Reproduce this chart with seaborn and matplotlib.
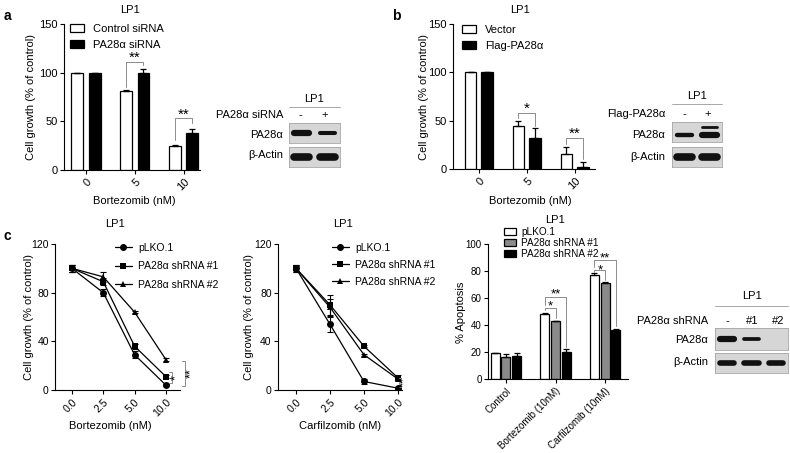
import numpy as np
import pandas as pd
import matplotlib
matplotlib.use("Agg")
import matplotlib.pyplot as plt
import seaborn as sns

sns.set_theme(style="ticks")
plt.rcParams["font.family"] = ["Liberation Sans", "DejaVu Sans"]
plt.rcParams.update({
    "axes.linewidth": 0.8,
    "axes.edgecolor": "black",
    "xtick.major.width": 0.8,
    "ytick.major.width": 0.8,
    "xtick.major.size": 3,
    "ytick.major.size": 3,
    "ytick.major.pad": 1.5,
    "xtick.major.pad": 2,
    "xtick.color": "black",
    "ytick.color": "black",
    "text.color": "black",
    "axes.labelcolor": "black",
})

W, H = 790, 453

# panel a: siRNA knockdown
doses_a = ["0", "5", "10"]
ctrl_sirna = [100, 81, 25]
ctrl_sirna_err = [0, 1.0, 0.6]
pa28_sirna = [100, 99.5, 38]
pa28_sirna_err = [0, 4.5, 4.0]

# panel b: overexpression
doses_b = ["0", "5", "10"]
vector = [100, 44, 16]
vector_err = [0, 6, 7]
flag_pa28 = [100, 32, 2.5]
flag_pa28_err = [0, 10, 5]

# panel c: dose response curves
conc = ["0.0", "2.5", "5.0", "10.0"]
btz_plko = [100, 80, 29, 4]
btz_plko_err = [3, 3, 3, 1]
btz_sh1 = [100, 89, 36, 11]
btz_sh1_err = [3, 3, 2, 1]
btz_sh2 = [100, 93, 64, 25]
btz_sh2_err = [3, 4, 1, 1]
cfz_plko = [100, 54, 7, 1.5]
cfz_plko_err = [3, 6, 2, 1]
cfz_sh1 = [100, 70, 36, 10]
cfz_sh1_err = [3, 8, 1, 2]
cfz_sh2 = [100, 68, 29, 9]
cfz_sh2_err = [2, 7, 1, 1]

# panel c: apoptosis
apop_groups = ["Control", "Bortezomib (10nM)", "Carfilzomib (10nM)"]
apop_plko = [19, 48, 77]
apop_plko_err = [0.5, 1.2, 1.5]
apop_sh1 = [16.5, 43, 71]
apop_sh1_err = [2, 0.3, 1.2]
apop_sh2 = [17, 20, 36]
apop_sh2_err = [2, 2.2, 0.8]

# western blots (relative band intensity per lane)
blot_a_lanes = ["-", "+"]
blot_a_pa28 = [1.0, 0.65]
blot_a_actin = [1.0, 1.0]
blot_b_lanes = ["-", "+"]
blot_b_pa28 = [0.7, 1.0]
blot_b_flag = [0.0, 0.45]
blot_b_actin = [1.0, 1.0]
blot_c_lanes = ["-", "#1", "#2"]
blot_c_pa28 = [1.0, 0.6, 0.0]
blot_c_actin = [0.9, 0.9, 0.9]

fig = plt.figure(figsize=(W / 100, H / 100), dpi=100)


def px_axes(l, t, r, b):
    return fig.add_axes([l / W, 1 - b / H, (r - l) / W, (b - t) / H])


def ftext(x, y, s, **kw):
    kw.setdefault("ha", "center")
    kw.setdefault("va", "center")
    kw.setdefault("fontsize", 8)
    fig.text(x / W, 1 - y / H, s, **kw)


def place_labels(ax, ylab, yxy, xlab=None, xxy=None, fs=8):
    ax.set_ylabel(ylab, fontsize=fs)
    ax.yaxis.set_label_coords(yxy[0] / W, 1 - yxy[1] / H, transform=fig.transFigure)
    if xlab:
        ax.set_xlabel(xlab, fontsize=fs)
        ax.xaxis.set_label_coords(xxy[0] / W, 1 - xxy[1] / H, transform=fig.transFigure)
    else:
        ax.set_xlabel("")


def bar_panel(ax, cats, series, errs, names, colors, width, gap):
    n = len(series)
    df = pd.DataFrame({
        "cat": np.tile(cats, n),
        "val": np.concatenate(series),
        "grp": np.repeat(names, len(cats)),
    })
    sns.barplot(data=df, x="cat", y="val", hue="grp", palette=colors, width=width,
                gap=gap, edgecolor="black", linewidth=0.9, errorbar=None, ax=ax)
    slot = width / n
    pos = []
    for j, (v, e) in enumerate(zip(series, errs)):
        x = np.arange(len(cats)) + (j - (n - 1) / 2) * slot
        pos.append(x)
        ax.errorbar(x, v, yerr=[np.zeros(len(v)), e], fmt="none", ecolor="black",
                    elinewidth=0.9, capsize=2.5, capthick=0.9)
    sns.despine(ax=ax)
    return pos


def line_panel(ax, cats, series, errs, names):
    n = len(series)
    x = np.arange(len(cats))
    df = pd.DataFrame({
        "pos": np.tile(x, n),
        "val": np.concatenate(series),
        "grp": np.repeat(names, len(cats)),
    })
    sns.lineplot(data=df, x="pos", y="val", hue="grp", style="grp", markers=["o", "s", "^"],
                 dashes=False, palette=["black"] * n, markersize=5, linewidth=0.9,
                 markeredgewidth=0, errorbar=None, ax=ax)
    for v, e in zip(series, errs):
        ax.errorbar(x, v, yerr=e, fmt="none", ecolor="black", elinewidth=0.8,
                    capsize=2.5, capthick=0.8)
    ax.set_xticks(x)
    ax.set_xticklabels(cats)
    sns.despine(ax=ax)


def bracket(ax, x1, x2, y1, y2, top, label, fs=10, lift=-3):
    ax.plot([x1, x1, x2, x2], [y1, top, top, y2], color="0.55", lw=0.7, clip_on=False)
    ax.text((x1 + x2) / 2, top + lift, label, ha="center", va="bottom", fontsize=fs,
            clip_on=False)


def vbracket(ax, x, y1, y2, dx, label, fs=9, off=1.6):
    ax.plot([x - dx, x, x, x - dx], [y1, y1, y2, y2], color="0.55", lw=0.7, clip_on=False)
    ax.text(x + dx * off, (y1 + y2) / 2, label, ha="center", va="center", rotation=90,
            fontsize=fs, clip_on=False)


def rot_ticks(ax, fs):
    for lab in ax.get_xticklabels():
        lab.set_rotation(45)
        lab.set_ha("right")
        lab.set_rotation_mode("anchor")
        lab.set_fontsize(fs)
    for lab in ax.get_yticklabels():
        lab.set_fontsize(fs)


def legend(ax, x, y, fs=7.5, **kw):
    handles, labels = ax.get_legend_handles_labels()
    ax.legend(handles, labels, loc="upper left", bbox_to_anchor=(x / W, 1 - y / H),
              bbox_transform=fig.transFigure, frameon=False, fontsize=fs, borderpad=0,
              borderaxespad=0, **kw)


def blot(l, t, r, b, rows, lw_max=4.5):
    ax = px_axes(l, t, r, b)
    ax.set_facecolor("#d6d6d6")
    n = len(rows[0][1])
    ax.set_xlim(0, n)
    ax.set_ylim(0, 1)
    for y, vals in rows:
        for i, v in enumerate(vals):
            if v > 0:
                ax.plot([i + 0.2, i + 0.8], [y, y], color="#111111", lw=lw_max * v,
                        solid_capstyle="round")
    ax.set_xticks([])
    ax.set_yticks([])
    for s in ax.spines.values():
        s.set_color("0.65")
        s.set_linewidth(0.6)
    return ax


# ---------- panel a ----------
ax_a = px_axes(64, 24, 200, 170)
pos_a = bar_panel(ax_a, doses_a, [ctrl_sirna, pa28_sirna], [ctrl_sirna_err, pa28_sirna_err],
                  ["Control siRNA", "PA28\u03b1 siRNA"], ["white", "black"], 0.7, 0.3)
ax_a.set_xlim(-0.45, 2.33)
ax_a.set_ylim(0, 150)
ax_a.set_yticks([0, 50, 100, 150])
rot_ticks(ax_a, 8)
place_labels(ax_a, "Cell growth (% of control)", (36, 97), "Bortezomib (nM)", (134, 196))
legend(ax_a, 70, 24, fs=8, handlelength=1.3, handleheight=0.7, handletextpad=0.8,
       labelspacing=0.5)
bracket(ax_a, pos_a[0][1], pos_a[1][1], 85, 108, 111, "**", fs=11)
bracket(ax_a, pos_a[0][2], pos_a[1][2], 31, 48, 53, "**", fs=11)
ftext(130, 10, "LP1")
ftext(7, 16, "a", fontsize=10, fontweight="bold")

# blot a
blot(289, 123, 340, 143, [(0.5, blot_a_pa28)])
blot(289, 147, 340, 167, [(0.5, blot_a_actin)], lw_max=5.5)
ftext(314, 99, "LP1")
fig.add_artist(plt.Line2D([289 / W, 340 / W], [1 - 107 / H, 1 - 107 / H], color="0.6", lw=0.6))
ftext(283, 115, "PA28\u03b1 siRNA", ha="right")
for i, s in enumerate(blot_a_lanes):
    ftext(300 + 25 * i, 115, s)
ftext(283, 135, "PA28\u03b1", ha="right")
ftext(283, 155, "\u03b2-Actin", ha="right")

# ---------- panel b ----------
ax_b = px_axes(453, 24, 595, 169)
pos_b = bar_panel(ax_b, doses_b, [vector, flag_pa28], [vector_err, flag_pa28_err],
                  ["Vector", "Flag-PA28\u03b1"], ["white", "black"], 0.7, 0.3)
ax_b.set_xlim(-0.54, 2.42)
ax_b.set_ylim(0, 150)
ax_b.set_yticks([0, 50, 100, 150])
rot_ticks(ax_b, 8)
place_labels(ax_b, "Cell growth (% of control)", (429, 97), "Bortezomib (nM)", (530, 196))
legend(ax_b, 462, 25, fs=8, handlelength=1.3, handleheight=0.7, handletextpad=0.8,
       labelspacing=0.5)
bracket(ax_b, pos_b[0][1], pos_b[1][1], 53, 44, 58, "*", fs=11)
bracket(ax_b, pos_b[0][2], pos_b[1][2], 26, 10, 32, "**", fs=11)
ftext(520, 10, "LP1")
ftext(396, 16, "b", fontsize=10, fontweight="bold")

# blot b
blot(672, 122, 722, 142, [(0.35, blot_b_pa28), (0.75, blot_b_flag)])
blot(672, 147, 722, 167, [(0.5, blot_b_actin)], lw_max=5.5)
ftext(697, 96, "LP1")
fig.add_artist(plt.Line2D([672 / W, 722 / W], [1 - 104 / H, 1 - 104 / H], color="0.6", lw=0.6))
ftext(665, 114, "Flag-PA28\u03b1", ha="right")
for i, s in enumerate(blot_b_lanes):
    ftext(684 + 24 * i, 114, s)
ftext(665, 135, "PA28\u03b1", ha="right")
ftext(665, 157, "\u03b2-Actin", ha="right")

# ---------- panel c: bortezomib curve ----------
sh_names = ["pLKO.1", "PA28\u03b1 shRNA #1", "PA28\u03b1 shRNA #2"]
ax_c1 = px_axes(55, 244, 180, 390)
line_panel(ax_c1, conc, [btz_plko, btz_sh1, btz_sh2], [btz_plko_err, btz_sh1_err, btz_sh2_err],
           sh_names)
ax_c1.set_xlim(-0.54, 3.45)
ax_c1.set_ylim(0, 120)
ax_c1.set_yticks([0, 40, 80, 120])
rot_ticks(ax_c1, 7.5)
place_labels(ax_c1, "Cell growth (% of control)", (34, 317), "Bortezomib (nM)", (110, 421))
legend(ax_c1, 115, 243, fs=7.5, handlelength=1.6, handletextpad=0.6, labelspacing=0.8)
vbracket(ax_c1, 3.19, 5.5, 14.5, 0.1, "*", off=1.5)
vbracket(ax_c1, 3.62, 3.3, 24, 0.1, "**", off=1.8)
ftext(115, 224, "LP1")
ftext(7, 236, "c", fontsize=10, fontweight="bold")

# ---------- panel c: carfilzomib curve ----------
ax_c2 = px_axes(278, 244, 402, 390)
line_panel(ax_c2, conc, [cfz_plko, cfz_sh1, cfz_sh2], [cfz_plko_err, cfz_sh1_err, cfz_sh2_err],
           sh_names)
ax_c2.set_xlim(-0.53, 3.12)
ax_c2.set_ylim(0, 120)
ax_c2.set_yticks([0, 40, 80, 120])
rot_ticks(ax_c2, 7.5)
place_labels(ax_c2, "Cell growth (% of control)", (254, 317), "Carfilzomib (nM)", (340, 421))
legend(ax_c2, 332, 243, fs=7.5, handlelength=1.6, handletextpad=0.6, labelspacing=0.65)
vbracket(ax_c2, 3.1, 2.5, 10, 0.06, "**")
ftext(343, 224, "LP1")

# ---------- panel c: apoptosis ----------
ax_c3 = px_axes(488, 244, 628, 379)
pos_c = bar_panel(ax_c3, apop_groups, [apop_plko, apop_sh1, apop_sh2],
                  [apop_plko_err, apop_sh1_err, apop_sh2_err], sh_names,
                  ["white", "#8a8a8a", "black"], 0.645, 0.16)
ax_c3.set_xlim(-0.36, 2.46)
ax_c3.set_ylim(0, 100)
ax_c3.set_yticks([0, 20, 40, 60, 80, 100])
rot_ticks(ax_c3, 7)
place_labels(ax_c3, "% Apoptosis", (466, 312), fs=8)
legend(ax_c3, 504, 227, fs=7.2, handlelength=1.2, handleheight=0.6, handletextpad=0.5,
       labelspacing=0.1)
bracket(ax_c3, pos_c[0][1], pos_c[1][1], 51, 45, 52.5, "*", fs=9.5, lift=-3.5)
bracket(ax_c3, pos_c[0][1], pos_c[2][1], 54.5, 24, 61, "**", fs=9.5, lift=-3)
bracket(ax_c3, pos_c[0][2], pos_c[1][2], 79.5, 73.5, 80.5, "*", fs=9.5, lift=-4.5)
bracket(ax_c3, pos_c[0][2], pos_c[2][2], 83, 39, 88, "**", fs=9.5, lift=-3.5)
ftext(555, 220, "LP1")

# blot c
blot(715, 328, 788, 350, [(0.5, blot_c_pa28)])
blot(715, 353, 788, 373, [(0.5, blot_c_actin)])
ftext(752, 296, "LP1")
fig.add_artist(plt.Line2D([715 / W, 788 / W], [1 - 306 / H, 1 - 306 / H], color="0.6", lw=0.6))
ftext(708, 321, "PA28\u03b1 shRNA", ha="right")
for i, s in enumerate(blot_c_lanes):
    ftext(727 + 25.5 * i, 321, s)
ftext(708, 340, "PA28\u03b1", ha="right")
ftext(708, 362, "\u03b2-Actin", ha="right")

fig.savefig("out.png", dpi=100)
